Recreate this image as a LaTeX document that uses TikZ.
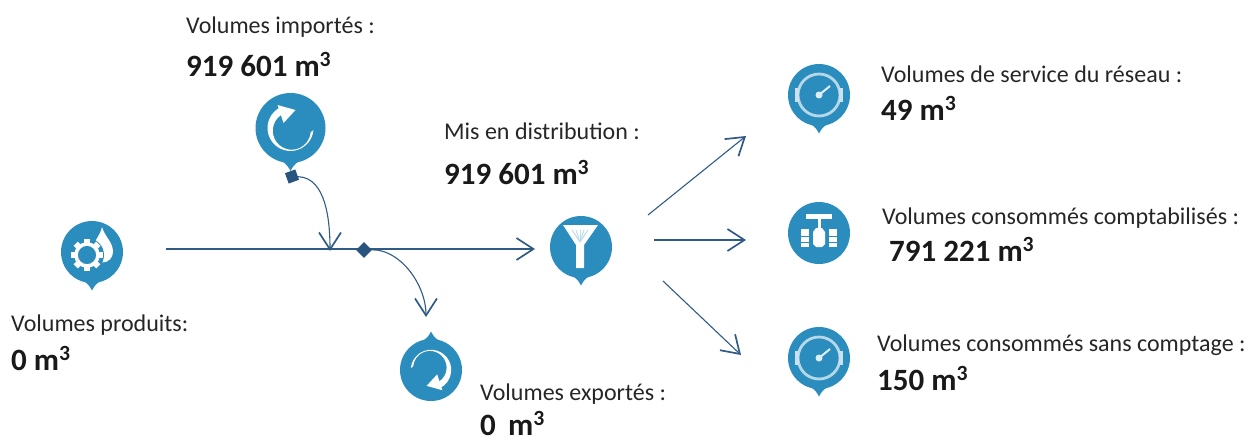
\documentclass[tikz,border=0pt]{standalone}
\usepackage{fontspec}
\setmainfont{Carlito}
\usetikzlibrary{arrows.meta}
\definecolor{iconblue}{HTML}{2B8CBE}
\definecolor{flowblue}{HTML}{2F5B85}
\definecolor{markblue}{HTML}{2A5480}
\tikzset{
  x=1pt,y=-1pt,
  lab/.style={anchor=base west,inner sep=0pt,font=\fontsize{24}{28}\selectfont,text=black!85},
  val/.style={anchor=base west,inner sep=0pt,font=\fontsize{31}{35}\selectfont\bfseries,text=black!90},
  disc/.style={circle,fill=iconblue,inner sep=0pt,minimum size=62pt},
  flow/.style={draw=flowblue,line width=1.1pt,-{Straight Barb[length=17pt,width=22pt,line width=1.7pt]}},
  markbox/.style={fill=markblue,inner sep=0pt,minimum size=11pt},
  yupaxes/.style={x=1pt,y=1pt},
}
\newcommand{\pintip}{\fill[iconblue] (-11,-27) .. controls (-6,-31) and (-3,-32) .. (0,-38.5) .. controls (3,-32) and (6,-31) .. (11,-27) -- cycle;}
\newcommand{\refreshglyph}{%
  \fill[white] (-5:23) arc[start angle=-5,end angle=-245,radius=23] -- (115:16) arc[start angle=-245,end angle=-5,radius=19] -- cycle;
  \fill[white] (-13,23) -- (5,18) -- (-7,5) -- cycle;
}
\newcommand{\gaugeglyph}{%
  \draw[white!65!iconblue,line width=2.8pt] (0,0) circle[radius=21];
  \fill[white!75!iconblue] (-24,-7) rectangle (-20,7);
  \fill[white!75!iconblue] (20,-7) rectangle (24,7);
  \draw[white!85!iconblue,line width=2pt] (0,0) -- (11,9);
  \fill[white!85!iconblue] (0,0) circle[radius=3.5];
}
\begin{document}
\begin{tikzpicture}
\useasboundingbox (0,0) rectangle (1249,437);
% icons
\node[disc,minimum size=70pt] (imp) at (290.5,128) {};
\begin{scope}[shift={(imp.center)},yupaxes,scale=1.12]
  \pintip
\end{scope}
\begin{scope}[shift={(imp.center)},yupaxes]
  \refreshglyph
\end{scope}
\node[disc] (prod) at (92,252) {};
\begin{scope}[shift={(prod.center)},yupaxes]
  \pintip
  \fill[white] (10,25) .. controls (8,15) and (0,10) .. (0,0) arc[start angle=180,end angle=360,radius=10.5] .. controls (21,10) and (13,15) .. (10,25) -- cycle;
  \fill[iconblue] (-5,-3) circle[radius=17];
  \foreach \a in {0,45,...,315}
    \fill[white,shift={(-5,-3)},rotate=\a] (-3,11) rectangle (3,16);
  \draw[white,line width=3.6pt] (-5,-3) circle[radius=11];
\end{scope}
\node[disc] (exp) at (431,370) {};
\begin{scope}[shift={(exp.center)},yupaxes,rotate=180]
  \pintip
\end{scope}
\begin{scope}[shift={(exp.center)},yupaxes,rotate=180,scale=0.88]
  \refreshglyph
\end{scope}
\node[disc] (dist) at (581,247) {};
\begin{scope}[shift={(dist.center)},yupaxes]
  \pintip
  \fill[white] (-18,22) -- (17,22) -- (3,2) -- (3,-21) -- (-5,-21) -- (-5,2) -- cycle;
  \foreach \xx in {-9,-5,-1,3,7}
    \draw[white!70!iconblue,line width=1pt] (\xx,17) -- (-1,5);
\end{scope}
\node[disc] (serv) at (819,95) {};
\begin{scope}[shift={(serv.center)},yupaxes]
  \pintip
  \gaugeglyph
\end{scope}
\node[disc] (comp) at (819,233) {};
\begin{scope}[shift={(comp.center)},yupaxes]
  \fill[white] (-13,19.5) rectangle (13,14.5);
  \fill[white] (-1.5,15) rectangle (1.5,4);
  \fill[white] (-3,5) -- (3,5) -- (6,1) -- (6,-11) -- (3,-14) -- (-3,-14) -- (-6,-11) -- (-6,1) -- cycle;
  \fill[white] (-18,4) rectangle (-10,-14);
  \fill[white] (10,4) rectangle (18,-14);
  \foreach \yy in {-2.5,-8.5}{
    \fill[iconblue] (-18,\yy) rectangle (-10,\yy-1);
    \fill[iconblue] (10,\yy) rectangle (18,\yy-1);
  }
\end{scope}
\node[disc] (sans) at (819,358) {};
\begin{scope}[shift={(sans.center)},yupaxes]
  \pintip
  \gaugeglyph
\end{scope}
% anchors of the connectors
\coordinate (mainstart) at (166,249);
\coordinate (mainend) at (535,249);
\coordinate (join) at (330,251);
\coordinate (expend) at (426,317);
\coordinate (a1s) at (648,215);
\coordinate (a1e) at (746,136);
\coordinate (a2s) at (654,240);
\coordinate (a2e) at (746,240);
\coordinate (a3s) at (663,281);
\coordinate (a3e) at (741,355);
% connectors
\draw[flow] (mainstart) -- (mainend);
\node[markbox,rotate=20] (m1) at (292,176.5) {};
\node[markbox,rotate=45] (m2) at (364,250) {};
\draw[flow] (m1) to[out=-5,in=90,looseness=0.9] (join);
\draw[flow] (m2) to[out=-5,in=90,looseness=0.9] (expend);
\draw[flow] (a1s) -- (a1e);
\draw[flow] (a2s) -- (a2e);
\draw[flow] (a3s) -- (a3e);
% texts
\node[lab] (t1) at (186,33) {Volumes importés :};
\node[val] (v1) at (186,76) {919 601 m\textsuperscript{3}};
\node[lab] (t2) at (444,139) {Mis en distribution :};
\node[val] (v2) at (444,184) {919 601 m\textsuperscript{3}};
\node[lab] (t3) at (881,82) {Volumes de service du réseau :};
\node[val] (v3) at (881,120) {49 m\textsuperscript{3}};
\node[lab] (t4) at (882,224) {Volumes consommés comptabilisés :};
\node[val] (v4) at (889,261) {791 221 m\textsuperscript{3}};
\node[lab] (t5) at (877,351) {Volumes consommés sans comptage :};
\node[val] (v5) at (877,390) {150 m\textsuperscript{3}};
\node[lab] (t6) at (11,331) {Volumes produits:};
\node[val] (v6) at (11,370) {0 m\textsuperscript{3}};
\node[lab] (t7) at (480,400) {Volumes exportés :};
\node[val] (v7) at (480,435) {0\, m\textsuperscript{3}};
\end{tikzpicture}
\end{document}
